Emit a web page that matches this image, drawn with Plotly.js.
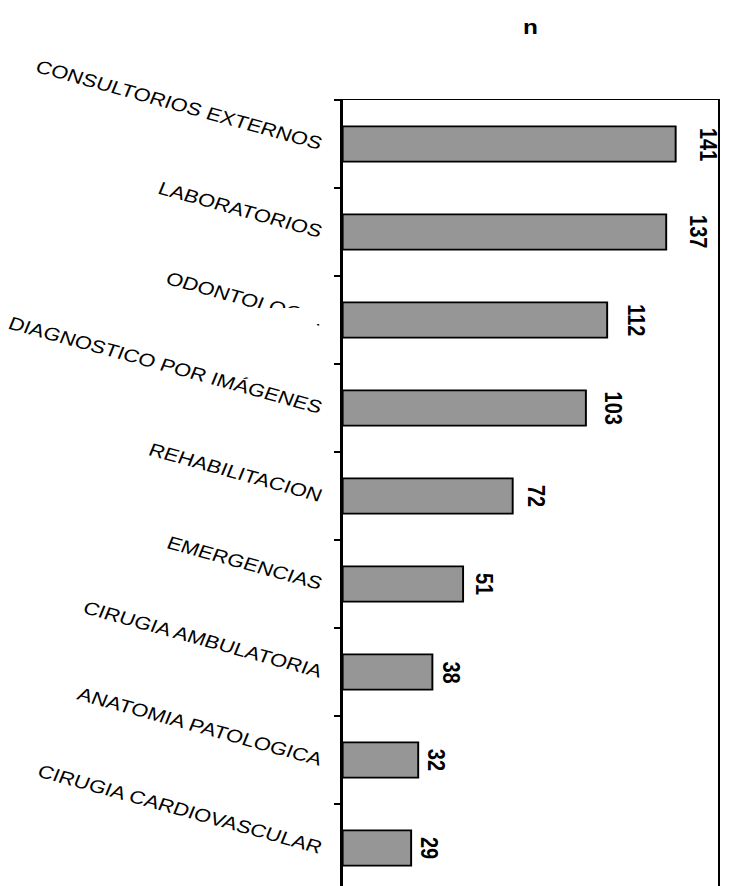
<!DOCTYPE html>
<html>
<head>
<meta charset="utf-8">
<script src="https://cdn.plot.ly/plotly-3.0.1.min.js"></script>
<style>
  html, body { margin: 0; padding: 0; overflow: hidden; background: #ffffff; }
  #wrap { width: 734px; height: 886px; overflow: hidden; }
  #chart { width: 602px; height: 892px; transform: scale(1.2193, 1); transform-origin: 0 0; }
</style>
</head>
<body>
<div id="wrap"><div id="chart"></div></div>
<script>
const categories = [
  "CONSULTORIOS EXTERNOS",
  "LABORATORIOS",
  "ODONTOLOGIA",
  "DIAGNOSTICO POR IMÁGENES",
  "REHABILITACION",
  "EMERGENCIAS",
  "CIRUGIA AMBULATORIA",
  "ANATOMIA PATOLOGICA",
  "CIRUGIA CARDIOVASCULAR"
];
const values = [141, 137, 112, 103, 72, 51, 38, 32, 29];
const titleText = "n";

const FONT = "Liberation Sans, Arial, sans-serif";

const barTrace = {
  type: "bar",
  orientation: "h",
  x: values,
  y: categories,
  width: 0.4,
  marker: { color: "#969696", line: { color: "#000000", width: 1.6 } },
  hoverinfo: "x+y",
  showlegend: false
};

const helperTrace = {
  type: "scatter",
  mode: "markers",
  x: [values[0]],
  y: [categories[0]],
  xaxis: "x2",
  marker: { opacity: 0 },
  hoverinfo: "skip",
  showlegend: false
};

const annotations = values.map((v, i) => ({
  x: v,
  y: categories[i],
  xref: "x2",
  yref: "y",
  text: String(v),
  textangle: 90,
  showarrow: false,
  xanchor: "left",
  yanchor: "middle",
  xshift: -3.5,
  font: { family: FONT, size: 20, color: "#000000", weight: "bold" }
}));

const layout = {
  width: 602,
  height: 892,
  margin: { l: 281, r: 13, t: 100, b: 0 },
  paper_bgcolor: "#ffffff",
  plot_bgcolor: "#ffffff",
  font: { family: FONT, color: "#000000" },
  title: {
    text: "<b>" + titleText + "</b>",
    font: { family: FONT, size: 20, color: "#000000" },
    x: 0.5, xref: "paper", xanchor: "center",
    y: 1 - 27 / 892, yref: "container", yanchor: "middle"
  },
  xaxis: {
    range: [0, 159],
    showgrid: false,
    zeroline: false,
    showticklabels: false,
    ticks: "",
    showline: true,
    mirror: true,
    linecolor: "#000000",
    linewidth: 1.5,
    fixedrange: true
  },
  xaxis2: {
    overlaying: "x",
    range: [-1.12, 149.5],
    visible: false,
    fixedrange: true
  },
  yaxis: {
    type: "category",
    categoryorder: "array",
    categoryarray: categories,
    autorange: "reversed",
    showgrid: false,
    zeroline: false,
    showline: true,
    mirror: true,
    linecolor: "#000000",
    linewidth: 1.8,
    ticks: "outside",
    tickson: "boundaries",
    ticklen: 5,
    tickwidth: 1.8,
    tickcolor: "#000000",
    tickangle: 18.5,
    ticklabelstandoff: 11,
    tickfont: { family: FONT, size: 18, color: "#000000" },
    fixedrange: true
  },
  bargap: 0.6,
  annotations: annotations,
  shapes: [{
    type: "rect",
    xref: "paper", yref: "paper",
    x0: -0.235, x1: -0.04,
    y0: 1 - (308 - 100) / 792, y1: 1 - (324 - 100) / 792,
    fillcolor: "#ffffff",
    line: { width: 0 },
    layer: "above"
  }]
};

Plotly.newPlot("chart", [barTrace, helperTrace], layout, { displayModeBar: false, staticPlot: true });
</script>
</body>
</html>
